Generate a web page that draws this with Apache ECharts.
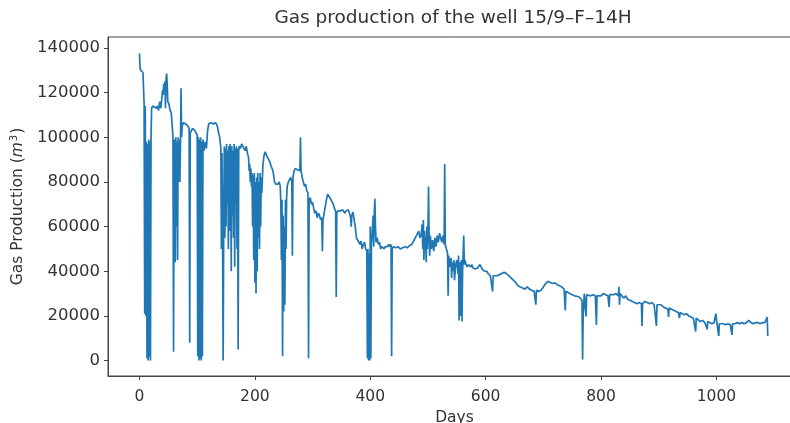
<!DOCTYPE html>
<html>
<head>
<meta charset="utf-8">
<script src="https://cdn.jsdelivr.net/npm/echarts@6/dist/echarts.min.js"></script>
<style>
  html, body { margin: 0; padding: 0; background: #fff; }
  #chart { width: 790px; height: 423px; }
</style>
</head>
<body>
<div id="chart"></div>
<script>
// Daily gas production [day, m3]
const production = [
  [0,137500],[1,131000],[2,130000],[4,129500],[6,129000],[7,128500],[8,115000],[9,21000],[10,114000],[11,20000],
  [12,98000],[13,1000],[14,97000],[15,0],[16,99000],[17,1500],[18,98000],[19,0],[20,100000],[21,113000],
  [23,114000],[26,113500],[29,113000],[31,114000],[33,112000],[35,116000],[37,113000],[38,113500],[40,121000],[41,119000],
  [42,124000],[43,121000],[44,125000],[45,113000],[46,126000],[47,128500],[48,124000],[49,116000],[51,115000],[53,112000],
  [55,111000],[57,104000],[58,100000],[59,4000],[60,95000],[61,99000],[62,44000],[63,100000],[64,60000],[65,98000],
  [66,45000],[67,100000],[68,80000],[69,99000],[70,80000],[71,97000],[72,122000],[73,100000],[74,105000],[76,106500],
  [78,107000],[80,106000],[82,106500],[84,105000],[86,104000],[87,8000],[88,102000],[90,103000],[92,104000],[94,103500],
  [96,103000],[98,102000],[100,101000],[101,2000],[102,100000],[103,0],[104,99000],[105,1000],[106,100000],[107,0],
  [108,98000],[109,2000],[110,99000],[112,94000],[114,98000],[116,95000],[118,103000],[120,106000],[124,106500],[128,106000],
  [132,106500],[135,105000],[137,102000],[139,100000],[141,95000],[142,50000],[143,93000],[144,55000],[145,0],[146,62000],
  [147,96000],[148,55000],[149,95000],[150,60000],[151,97000],[152,70000],[153,94000],[154,50000],[155,96000],[156,58000],
  [157,97000],[158,95000],[159,40000],[160,96000],[161,65000],[162,94000],[163,55000],[164,97000],[165,42000],[166,95000],
  [167,70000],[168,96000],[169,50000],[170,95000],[171,5000],[172,94000],[173,96000],[175,95000],[177,97000],[179,96000],
  [181,95000],[183,94000],[185,96000],[187,93000],[189,91000],[190,85000],[191,88000],[192,80000],[193,86000],[194,78000],
  [195,84000],[196,60000],[197,83000],[198,45000],[199,84000],[200,35000],[201,80000],[202,30000],[203,82000],[204,40000],
  [205,84000],[206,55000],[207,80000],[208,50000],[209,84000],[210,60000],[211,82000],[212,75000],[214,88000],[216,92000],
  [218,93500],[220,92000],[222,91000],[224,90000],[226,89000],[228,87000],[230,86000],[232,84000],[234,80000],[236,79000],
  [238,78500],[240,79000],[242,80000],[244,78000],[245,70000],[246,45000],[247,72000],[248,2000],[249,65000],[250,22000],
  [251,60000],[252,25000],[253,72000],[254,50000],[255,73000],[256,78000],[258,80000],[260,81000],[262,82000],[264,80000],
  [265,47000],[266,82000],[268,85000],[270,86000],[272,86500],[274,85500],[276,86000],[278,85000],[279,100000],[280,85000],
  [282,82000],[284,80000],[286,78000],[288,79000],[290,76000],[292,75000],[293,1000],[294,72000],[296,73000],[298,70000],
  [300,71000],[302,68000],[304,66000],[306,67000],[308,64000],[310,66000],[312,65000],[314,63000],[316,64000],[317,49000],
  [318,63000],[320,66000],[322,69000],[324,72000],[326,74500],[328,74000],[330,73000],[332,72000],[334,71000],[336,70000],
  [338,68000],[340,67000],[341,28500],[342,66000],[344,67000],[346,66500],[348,67000],[350,66500],[352,67500],[354,67000],
  [356,66000],[358,67000],[360,66500],[362,67500],[364,66000],[366,64000],[367,60000],[368,65000],[370,66500],[372,66000],
  [374,60000],[376,55000],[378,54000],[380,53000],[382,52000],[384,53500],[386,50000],[388,52000],[390,53000],[392,50000],
  [394,49000],[395,1000],[396,50000],[397,0],[398,48000],[399,0],[400,60000],[401,1000],[402,52000],[404,60000],
  [405,65000],[406,51000],[407,67000],[408,72500],[409,60000],[410,53000],[412,55000],[414,52000],[416,53000],[418,50000],
  [420,51000],[422,50500],[424,50000],[426,51000],[428,50500],[430,51000],[432,52000],[434,51000],[436,52000],[437,2000],
  [438,50000],[440,51000],[444,50500],[448,51000],[452,50000],[456,50500],[460,51000],[464,50500],[468,51500],[472,52000],
  [476,54000],[480,56000],[484,58000],[486,55000],[488,56000],[490,61000],[491,50000],[492,63000],[493,45000],[494,58000],
  [495,52000],[496,55000],[497,44000],[498,60000],[499,50000],[500,58000],[501,78000],[502,55000],[503,47000],[504,56000],
  [506,50000],[508,54000],[510,49000],[512,55000],[514,51000],[516,56000],[518,53000],[520,57000],[522,55000],[524,53000],
  [526,56000],[528,52000],[529,88000],[530,52000],[532,50000],[534,48000],[535,29000],[536,47000],[538,42000],[540,46000],
  [541,37000],[542,44000],[544,40000],[545,45000],[546,36000],[548,43000],[550,45000],[552,39000],[553,47000],[554,18000],
  [555,44000],[556,38000],[557,20000],[558,45000],[559,17500],[560,40000],[562,56000],[563,43000],[564,45000],[566,43000],
  [568,42000],[570,43000],[572,42500],[574,42000],[576,43000],[578,41500],[580,42000],[582,41000],[584,40500],[586,41500],
  [588,42000],[590,43000],[592,42000],[594,41000],[596,40500],[598,40000],[600,39500],[602,40000],[604,39000],[606,38500],
  [608,38000],[610,38500],[612,31000],[613,38000],[616,37500],[620,38000],[624,38500],[628,39000],[632,39500],[636,39000],
  [640,38000],[644,37000],[648,36000],[652,35000],[656,33500],[660,33000],[664,32500],[668,32000],[672,33000],[676,32000],
  [680,31500],[684,31000],[687,25000],[688,31500],[692,31000],[696,31500],[700,33000],[704,34500],[708,35500],[712,35000],
  [716,34500],[720,34800],[724,34000],[728,33500],[732,33000],[736,32000],[738,22500],[739,31000],[742,30500],[746,30000],
  [750,29500],[754,29000],[758,28800],[762,28500],[765,28000],[767,27000],[768,500],[769,20000],[771,30000],[774,19800],
  [775,29500],[778,29500],[782,29000],[786,29500],[790,29000],[792,16000],[793,29000],[796,29500],[800,29000],[804,30000],
  [808,29500],[812,29000],[814,24000],[815,29500],[818,30000],[822,29500],[826,30000],[830,29000],[831,33000],[832,25000],
  [833,30000],[836,29000],[840,28000],[843,29000],[846,27500],[850,27000],[854,26500],[858,26000],[862,25500],[866,26000],
  [870,25500],[871,15500],[872,25500],[876,26500],[880,26000],[884,25500],[888,26000],[892,25000],[896,15500],[897,25000],
  [900,24500],[904,25000],[908,24000],[912,23500],[916,23000],[917,19500],[918,23500],[922,23000],[926,22500],[930,22000],
  [934,21500],[936,19000],[937,21500],[940,21000],[944,20500],[948,21000],[952,20000],[956,19500],[960,19000],[964,13000],
  [965,19000],[968,18500],[972,17500],[976,18000],[980,17000],[984,14000],[985,17500],[988,17000],[992,16500],[996,17000],
  [999,21000],[1001,16500],[1004,11000],[1005,16500],[1008,16000],[1012,16500],[1016,16000],[1020,16500],[1024,16000],[1027,11500],
  [1028,16500],[1032,16500],[1036,17000],[1040,16500],[1044,17000],[1048,16500],[1052,17000],[1056,18000],[1060,17000],[1064,16500],
  [1068,17000],[1072,17000],[1076,16500],[1080,17000],[1084,17000],[1088,19500],[1089,11000]
];

const xTicks = [0, 200, 400, 600, 800, 1000];
const yTicks = [0, 20000, 40000, 60000, 80000, 100000, 120000, 140000];

const titleText = 'Gas production of the well 15/9\u2013F\u201314H';
const xName = 'Days';

const FONT = '"DejaVu Sans", sans-serif';
const AX = '#444';
const TXT = '#333';

const chart = echarts.init(document.getElementById('chart'), null, { renderer: 'canvas' });
chart.setOption({
  animation: false,
  backgroundColor: '#fff',
  title: {
    text: titleText,
    left: 448,
    textAlign: 'center',
    top: 4,
    textStyle: { fontFamily: FONT, fontSize: 18.5, fontWeight: 'normal', color: TXT }
  },
  grid: {
    left: 108, right: -11, top: 37, bottom: 47,
    show: true, borderColor: AX, borderWidth: 1, backgroundColor: 'transparent',
    containLabel: false, outerBoundsMode: 'none'
  },
  xAxis: {
    type: 'value',
    min: -54.6, max: 1146.6,
    name: xName,
    nameLocation: 'middle',
    nameGap: 34,
    nameTextStyle: { fontFamily: FONT, fontSize: 15.5, color: TXT },
    axisLine: { show: true, onZero: false, lineStyle: { color: AX, width: 1 } },
    axisTick: { show: true, length: 4, inside: false, customValues: xTicks, lineStyle: { color: AX } },
    axisLabel: { customValues: xTicks, formatter: v => String(v), fontFamily: FONT, fontSize: 15.5, color: TXT, margin: 13 },
    splitLine: { show: false }
  },
  yAxis: {
    type: 'value',
    min: -6900, max: 144900,
    name: '{n|Gas Production (}{i|m}{s|3}{n|)}',
    nameLocation: 'middle',
    nameGap: 80,
    nameTextStyle: {
      fontFamily: FONT, fontSize: 15.5, color: TXT,
      rich: {
        n: { fontFamily: FONT, fontSize: 15.5, color: TXT },
        i: { fontFamily: FONT, fontSize: 15.5, color: TXT, fontStyle: 'italic' },
        s: { fontFamily: FONT, fontSize: 10, color: TXT, padding: [0, 1, 7, 1] }
      }
    },
    axisLine: { show: true, onZero: false, lineStyle: { color: AX, width: 1 } },
    axisTick: { show: true, length: 4, inside: false, customValues: yTicks, lineStyle: { color: AX } },
    axisLabel: { customValues: yTicks, formatter: v => String(v), fontFamily: FONT, fontSize: 16.5, color: TXT, margin: 8 },
    splitLine: { show: false }
  },
  series: [{
    type: 'line',
    data: production,
    showSymbol: false,
    symbol: 'none',
    clip: true,
    lineStyle: { color: '#1f77b4', width: 1.7 },
    itemStyle: { color: '#1f77b4' }
  }]
});
</script>
</body>
</html>
